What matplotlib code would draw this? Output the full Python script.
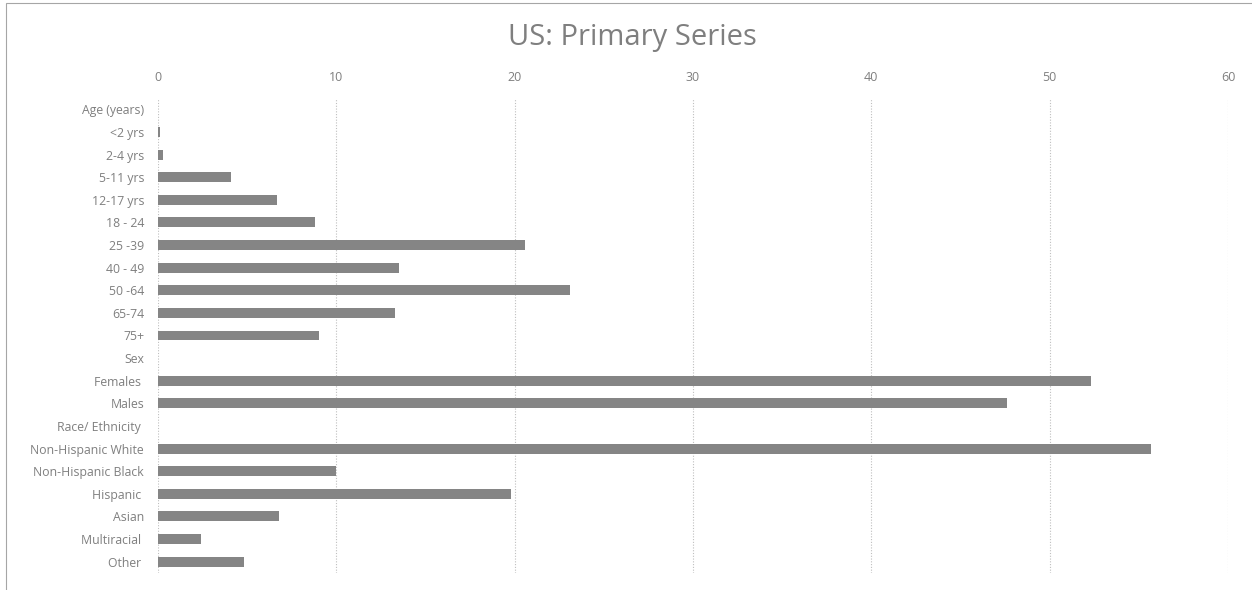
import matplotlib.pyplot as plt
from matplotlib.patches import Rectangle

# category rows, top to bottom; section headers have no bar
labels = ['Age (years)', '<2 yrs', '2-4 yrs', '5-11 yrs', '12-17 yrs', '18 - 24',
          '25 -39', '40 - 49', '50 -64', '65-74', '75+', 'Sex', 'Females ', 'Males',
          'Race/ Ethnicity ', 'Non-Hispanic White', 'Non-Hispanic Black', 'Hispanic ',
          'Asian', 'Multiracial ', 'Other ']
values = [0, 0.1, 0.3, 4.1, 6.7, 8.8, 20.6, 13.5, 23.1, 13.3, 9.0, 0, 52.3, 47.6,
          0, 55.7, 10.0, 19.8, 6.8, 2.4, 4.8]
xticks = [0, 10, 20, 30, 40, 50, 60]

txt = '#7f7f7f'

fig = plt.figure(figsize=(12.52, 5.9), dpi=100)
ax = fig.add_axes([158 / 1252, 17 / 590, 1070 / 1252, 475 / 590])

pos = list(range(len(labels)))
ax.barh(pos, values, height=0.44, color='#858585', zorder=3)

ax.set_xlim(0, 60)
ax.set_ylim(len(labels) - 0.5, -0.5)
ax.set_yticks(pos)
ax.set_yticklabels(labels, fontsize=8.8, color=txt, family='Open Sans')
ax.set_xticks(xticks)
ax.set_xticklabels([str(t) for t in xticks], fontsize=9, color=txt, family='Open Sans')
ax.xaxis.tick_top()
ax.tick_params(axis='y', length=0, pad=10)
ax.tick_params(axis='x', length=0, pad=10)
ax.grid(axis='x', linestyle=(0, (1, 1.5)), color='#bfbfbf', linewidth=0.8, zorder=0)
for s in ax.spines.values():
    s.set_visible(False)

fig.text(632 / 1252, 1 - 38 / 590, 'US: Primary Series', ha='center', va='center',
         fontsize=21, color=txt, family='Open Sans')

# chart frame
fig.patches.append(Rectangle((6 / 1252, -0.01), 1.02, 1 - 3 / 590 + 0.01, transform=fig.transFigure,
                             fill=False, edgecolor='#a6a6a6', linewidth=0.8))

fig.savefig('out.png', dpi=100)
